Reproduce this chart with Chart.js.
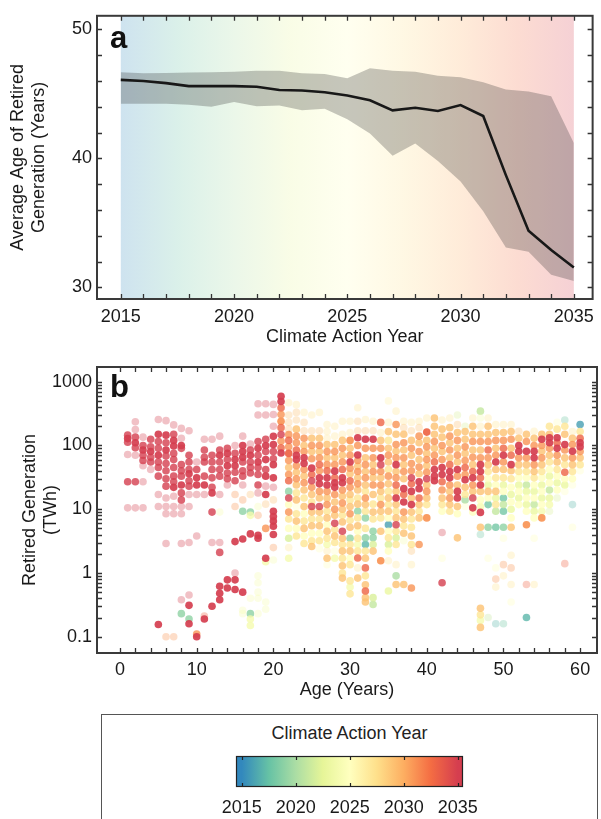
<!DOCTYPE html>
<html>
<head>
<meta charset="utf-8">
<script src="https://cdn.jsdelivr.net/npm/chart.js@4/dist/chart.umd.min.js"></script>
<style>
    body { margin: 0; background: #fff; width: 601px; height: 819px; position: relative; overflow: hidden;
           font-family: "Liberation Sans", Arial, sans-serif; }
    canvas { position: absolute; }
    #chartA { left: 0; top: 0; }
    #chartB { left: 0; top: 345px; }
    #legendBox { position: absolute; left: 101px; top: 714px; width: 497px; height: 130px;
                 border: 1.5px solid #555; box-sizing: border-box; }
    #legendTitle { position: absolute; left: 101px; width: 497px; top: 723px; text-align: center;
                   font-size: 18px; color: #222; }
    #colorBar { left: 200px; top: 750px; }
</style>
</head>
<body>
<canvas id="chartA" width="601" height="350"></canvas>
<canvas id="chartB" width="601" height="358"></canvas>
<div id="legendBox"></div>
<div id="legendTitle">Climate Action Year</div>
<canvas id="colorBar" width="300" height="69"></canvas>
<script>
// Panel a: average age of retired generation by climate action year
const years = [2015, 2016, 2017, 2018, 2019, 2020, 2021, 2022, 2023, 2024, 2025,
               2026, 2027, 2028, 2029, 2030, 2031, 2032, 2033, 2034, 2035];
const meanAge = [46.08, 46.0, 45.83, 45.6, 45.6, 45.6, 45.55, 45.3, 45.26, 45.13, 44.88,
                 44.5, 43.72, 43.92, 43.67, 44.13, 43.28, 38.7, 34.4, 32.9, 31.54];
const upperAge = [46.67, 46.6, 46.62, 46.65, 46.67, 46.72, 46.8, 46.8, 46.6, 46.54, 46.2,
                  46.98, 46.8, 46.72, 46.41, 46.28, 45.9, 45.34, 45.18, 44.82, 41.2];
const lowerAge = [44.23, 44.23, 44.23, 44.15, 44.0, 44.36, 44.03, 44.1, 43.72, 43.85, 43.03,
                  41.92, 40.2, 41.15, 39.8, 38.2, 35.9, 33.1, 32.77, 30.97, 30.5];

const yearTicks = [2015, 2020, 2025, 2030, 2035];
const ageAxisTicks = [30, 40, 50];
const ageTicks = [0, 10, 20, 30, 40, 50, 60];
const twhTicks = [0.1, 1, 10, 100, 1000];

// Panel b: retired generation (TWh) by plant age, [age, TWh, climate action year, frequency 1-3]
const ages1to10 = [
    [1,145,2035,2],[1,128,2035,3],[1,112,2035,2],[1,72,2035,1],[1,27,2035,2],[1,10.5,2035,1],
    [2,235,2035,1],[2,178,2035,1],[2,135,2035,2],[2,110,2035,3],[2,92,2035,2],[2,70,2035,1],[2,27,2035,2],[2,10.5,2035,1],
    [3,135,2035,1],[3,100,2035,2],[3,85,2035,3],[3,70,2035,2],[3,58,2035,2],[3,48,2035,1],[3,27,2035,1],[3,10.5,2035,1],
    [4,125,2035,2],[4,95,2035,2],[4,80,2035,3],[4,65,2035,2],[4,55,2035,2],[4,42,2035,1],
    [5,255,2035,1],[5,150,2035,3],[5,115,2035,2],[5,90,2035,2],[5,70,2035,3],[5,55,2035,2],[5,45,2035,2],[5,33,2035,2],[5,17,2035,1],[5,11,2035,1],[5,0.155,2035,3],
    [6,245,2035,1],[6,145,2035,3],[6,110,2035,2],[6,85,2035,3],[6,68,2035,2],[6,52,2035,2],[6,40,2035,2],[6,30,2035,2],[6,23,2035,2],[6,15,2035,1],[6,11,2035,1],[6,8.5,2035,1],[6,2.9,2035,1],[6,0.1,2031,1],
    [7,210,2035,1],[7,150,2035,2],[7,120,2035,3],[7,98,2035,3],[7,75,2035,2],[7,60,2035,2],[7,45,2035,2],[7,33,2035,2],[7,27,2035,2],[7,22,2035,3],[7,16,2035,1],[7,11,2035,1],[7,8.5,2035,1],[7,0.1,2031,1],
    [8,185,2035,1],[8,130,2035,1],[8,100,2035,3],[8,90,2035,2],[8,50,2035,2],[8,40,2035,2],[8,33,2035,2],[8,24,2035,3],[8,18,2035,2],[8,14,2035,2],[8,11,2035,1],[8,8.5,2035,1],[8,2.9,2035,1],[8,0.38,2035,1],[8,0.23,2019,2],
    [9,170,2035,1],[9,70,2035,2],[9,55,2035,2],[9,42,2035,2],[9,36,2035,3],[9,28,2035,2],[9,23,2035,2],[9,17,2035,1],[9,11,2035,1],[9,3.0,2035,1],[9,0.45,2035,1],[9,0.31,2035,3],[9,0.19,2019,2],[9,0.16,2035,3],
    [10,55,2035,1],[10,42,2035,2],[10,31,2035,3],[10,24,2035,3],[10,17,2035,1],[10,3.8,2035,1],[10,0.11,2031,2],[10,0.1,2035,3]
];
const ages11to20 = [
    [11,125,2035,1],[11,85,2035,2],[11,65,2035,2],[11,55,2035,2],[11,33,2035,2],[11,24,2035,3],[11,17,2035,1],[11,0.21,2033,1],[11,0.19,2035,3],
    [12,125,2035,1],[12,70,2035,2],[12,55,2035,2],[12,42,2035,2],[12,31,2035,2],[12,22,2035,2],[12,18,2035,3],[12,9,2035,2],[12,3.0,2035,1],[12,0.3,2035,3],
    [13,140,2035,1],[13,85,2035,2],[13,70,2035,3],[13,55,2035,2],[13,42,2035,2],[13,33,2035,2],[13,17,2035,1],[13,9,2024,1],[13,3.0,2035,1],[13,2.1,2035,2],[13,0.62,2035,3],[13,0.48,2035,3],[13,0.38,2035,3],
    [14,90,2035,2],[14,75,2035,3],[14,60,2035,2],[14,48,2035,3],[14,37,2035,2],[14,30,2035,2],[14,24,2035,1],[14,0.78,2035,3],[14,0.58,2035,3],
    [15,100,2035,1],[15,75,2035,2],[15,60,2035,3],[15,48,2035,3],[15,38,2035,2],[15,28,2035,2],[15,17,2031,1],[15,11,2031,1],[15,3.1,2035,3],[15,1.0,2035,1],[15,0.78,2035,3],[15,0.55,2035,3],
    [16,140,2035,1],[16,100,2035,3],[16,80,2035,3],[16,65,2035,3],[16,55,2035,2],[16,40,2035,2],[16,33,2035,2],[16,24,2035,1],[16,14,2031,1],[16,9.3,2019,2],[16,3.4,2035,3],[16,0.5,2035,3],[16,0.26,2024,1],[16,0.23,2024,1],
    [17,105,2035,1],[17,85,2035,2],[17,70,2035,3],[17,55,2035,2],[17,45,2035,2],[17,37,2035,2],[17,17,2029,1],[17,9,2019,2],[17,8,2024,2],[17,4.1,2035,3],[17,0.4,2024,1],[17,0.23,2019,2],[17,0.19,2024,2],[17,0.15,2024,2],
    [18,450,2035,1],[18,300,2035,1],[18,115,2035,2],[18,90,2035,3],[18,70,2035,2],[18,55,2035,3],[18,45,2035,2],[18,35,2035,2],[18,24,2035,2],[18,18,2035,1],[18,11,2024,1],[18,8,2031,1],[18,3.9,2035,3],[18,3.5,2035,3],[18,0.9,2024,1],[18,0.7,2024,1],[18,0.5,2024,1],[18,0.4,2024,1],[18,0.23,2024,1],
    [19,450,2035,1],[19,300,2035,1],[19,125,2035,2],[19,100,2035,3],[19,80,2035,2],[19,60,2035,3],[19,42,2035,2],[19,33,2035,3],[19,23,2035,1],[19,17,2035,3],[19,12,2029,1],[19,5,2031,2],[19,1.7,2035,3],[19,1.5,2024,2],[19,0.35,2024,1],[19,0.27,2024,1],
    [20,440,2035,1],[20,305,2035,1],[20,200,2035,1],[20,139,2035,3],[20,103,2035,3],[20,80,2035,2],[20,62,2035,2],[20,50,2035,3],[20,31,2035,3],[20,22,2035,1],[20,14,2029,1],[20,9.3,2035,3],[20,7.7,2035,3],[20,6.5,2035,3],[20,5.4,2035,3],[20,4.0,2035,3],[20,2.5,2031,1],[20,1.6,2024,1]
];
const ages21to30 = [
    [21,590,2035,3],[21,490,2035,3],[21,390,2033,2],[21,305,2031,2],[21,240,2031,3],[21,190,2033,2],[21,148,2035,2],[21,117,2031,2],[21,92,2033,2],[21,76,2035,3],
    [22,467,2027,1],[22,300,2029,1],[22,230,2029,1],[22,180,2029,1],[22,148,2031,2],[22,120,2033,2],[22,95,2031,2],[22,75,2033,3],[22,58,2031,2],[22,45,2029,2],[22,35,2031,2],[22,28,2033,2],[22,19,2019,2],[22,15,2035,2],[22,11.8,2025,2],[22,9,2031,2],[22,7,2027,2],[22,5,2025,2],[22,3.5,2022,2],[22,2.5,2027,1],[22,1.7,2024,2],
    [23,436,2027,1],[23,330,2029,1],[23,250,2029,1],[23,180,2029,2],[23,140,2031,2],[23,110,2031,2],[23,85,2033,2],[23,70,2035,3],[23,60,2035,3],[23,48,2031,2],[23,38,2029,2],[23,30,2031,2],[23,24,2029,2],[23,18,2027,2],[23,14,2029,2],[23,11,2025,1],[23,8.5,2027,2],[23,6.5,2029,2],[23,5,2025,2],[23,3.8,2027,2],
    [24,330,2027,1],[24,230,2029,1],[24,170,2029,1],[24,130,2031,2],[24,100,2029,2],[24,80,2031,2],[24,64,2035,3],[24,52,2035,3],[24,42,2031,2],[24,33,2029,2],[24,26,2031,2],[24,20,2029,2],[24,15,2027,2],[24,11,2029,2],[24,8.5,2025,2],[24,6.5,2027,2],[24,5,2029,2],[24,3.8,2025,2],[24,2.9,2027,2],
    [25,300,2027,1],[25,170,2029,1],[25,130,2029,2],[25,100,2031,2],[25,80,2029,2],[25,62,2031,2],[25,44,2035,3],[25,35,2033,2],[25,28,2035,2],[25,22,2031,2],[25,17,2029,2],[25,13,2027,2],[25,11,2035,2],[25,9,2029,2],[25,7,2027,2],[25,5.5,2029,2],[25,4.2,2025,2],[25,3.2,2027,2],[25,2.6,2029,2],
    [26,330,2027,1],[26,170,2029,1],[26,130,2029,2],[26,100,2031,2],[26,80,2029,2],[26,64,2031,2],[26,50,2033,2],[26,40,2031,2],[26,31,2035,3],[26,25,2035,3],[26,19,2031,2],[26,15,2029,2],[26,11,2035,2],[26,9,2029,2],[26,7,2027,2],[26,5.5,2029,2],[26,4.2,2025,2],[26,3.2,2027,2],[26,2.4,2025,1],
    [27,213,2027,1],[27,165,2027,1],[27,130,2027,1],[27,103,2029,2],[27,80,2031,2],[27,64,2029,2],[27,50,2031,2],[27,40,2033,2],[27,31,2035,3],[27,24,2035,3],[27,19,2031,2],[27,15,2029,2],[27,11.8,2031,2],[27,9.3,2027,2],[27,7.3,2029,2],[27,5.7,2025,2],[27,4.5,2029,2],[27,3.5,2027,2],[27,2.8,2024,2],[27,2.2,2027,1],[27,1.7,2029,2],[27,1.35,2025,1],
    [28,200,2027,1],[28,140,2027,1],[28,103,2029,2],[28,80,2031,2],[28,64,2029,2],[28,50,2031,2],[28,39.5,2035,3],[28,31,2033,2],[28,26,2035,3],[28,22,2035,3],[28,17,2031,2],[28,13,2029,2],[28,10,2031,2],[28,8,2029,2],[28,6,2035,2],[28,4.8,2027,2],[28,3.8,2029,2],[28,3,2027,2],[28,2.2,2025,1],[28,1.7,2024,2],
    [29,240,2027,1],[29,150,2027,1],[29,120,2029,2],[29,90,2031,2],[29,70,2029,2],[29,55,2031,2],[29,42,2033,2],[29,31,2035,3],[29,26,2035,3],[29,20,2031,2],[29,16,2029,2],[29,12.5,2031,2],[29,10,2029,2],[29,8,2027,2],[29,6.3,2029,2],[29,4.5,2035,2],[29,3.5,2029,2],[29,2.8,2027,2],[29,2.2,2029,2],[29,1.7,2027,2],[29,1.3,2029,2],[29,1.0,2027,2],[29,0.83,2029,2],
    [30,240,2027,1],[30,160,2027,1],[30,120,2031,3],[30,90,2029,2],[30,70,2031,2],[30,55,2035,3],[30,44,2031,2],[30,36,2029,2],[30,28,2033,2],[30,22,2031,2],[30,17,2029,2],[30,14,2027,2],[30,11,2029,2],[30,8.5,2031,2],[30,6.7,2027,2],[30,5.2,2029,2],[30,3.5,2019,2],[30,2.8,2027,2],[30,2.2,2029,2],[30,1.7,2025,2],[30,1.35,2027,2],[30,0.75,2027,2],[30,0.6,2024,2],[30,0.47,2027,2]
];
const ages31to40 = [
    [31,390,2027,1],[31,240,2029,1],[31,170,2029,1],[31,132,2035,3],[31,100,2031,2],[31,71,2035,3],[31,58,2031,2],[31,47,2029,2],[31,39,2031,2],[31,31,2029,2],[31,25,2031,2],[31,20,2029,2],[31,15,2027,2],[31,12,2029,2],[31,9.3,2019,2],[31,7.3,2027,2],[31,5.5,2029,2],[31,4.5,2025,2],[31,3.5,2027,2],[31,2.8,2024,2],[31,2.2,2027,2],[31,1.72,2033,2],[31,1.2,2027,1],[31,0.83,2029,2],
    [32,255,2027,1],[32,170,2029,1],[32,125,2035,3],[32,90,2031,2],[32,64,2029,2],[32,50,2031,2],[32,39,2029,2],[32,31,2031,2],[32,24,2029,2],[32,19,2027,2],[32,15,2031,2],[32,11.8,2029,2],[32,9.3,2027,2],[32,7.3,2019,2],[32,5,2027,2],[32,3.55,2019,2],[32,2.8,2017,2],[32,2.2,2027,2],[32,1.7,2029,2],[32,1.2,2033,2],[32,0.9,2027,2],[32,0.65,2029,2],[32,0.52,2033,2],[32,0.41,2029,2],[32,0.35,2029,2],
    [33,240,2027,1],[33,170,2029,1],[33,125,2035,3],[33,90,2031,2],[33,64,2031,2],[33,50,2029,2],[33,39,2031,2],[33,31,2029,2],[33,24,2031,2],[33,17,2029,2],[33,12,2027,2],[33,9,2029,2],[33,7,2027,2],[33,4.5,2019,2],[33,3.55,2019,2],[33,2.8,2022,2],[33,2.2,2029,2],[33,0.41,2022,2],[33,0.32,2021,2],
    [34,230,2033,2],[34,160,2027,1],[34,120,2029,2],[34,90,2031,2],[34,64,2035,3],[34,50,2035,2],[34,39,2031,2],[34,31,2029,2],[34,24,2031,2],[34,19,2029,2],[34,15,2027,2],[34,11.8,2031,2],[34,9.3,2029,2],[34,7.3,2027,2],[34,4.5,2029,2],[34,1.55,2031,3],
    [35,500,2026,1],[35,230,2027,1],[35,165,2029,2],[35,120,2027,2],[35,90,2029,2],[35,70,2031,2],[35,55,2029,2],[35,42,2027,2],[35,33,2031,2],[35,25,2029,2],[35,19,2027,2],[35,15,2029,2],[35,11.8,2027,2],[35,9.3,2029,2],[35,7.3,2025,2],[35,5.7,2016,2],[35,4.5,2025,2],[35,3.55,2027,2],[35,2.8,2022,2],[35,2.2,2025,2],[35,1.55,2027,1],[35,0.52,2023,2],
    [36,345,2027,1],[36,213,2031,2],[36,150,2029,2],[36,103,2031,2],[36,81,2029,2],[36,64,2031,2],[36,50,2035,3],[36,39,2029,2],[36,31,2031,2],[36,24,2033,2],[36,19,2029,2],[36,15,2035,3],[36,11.8,2029,2],[36,9.3,2027,2],[36,7.3,2029,2],[36,5.7,2035,2],[36,4.5,2027,2],[36,3.55,2022,2],[36,2.8,2027,2],[36,1.35,2027,1],[36,0.9,2020,2],[36,0.66,2029,2],
    [37,240,2027,1],[37,190,2029,1],[37,150,2029,2],[37,110,2031,2],[37,85,2029,2],[37,64,2031,2],[37,50,2029,2],[37,39,2031,2],[37,30,2029,2],[37,21,2035,3],[37,17,2033,2],[37,13,2035,3],[37,9,2031,2],[37,7,2029,2],[37,5.5,2027,2],[37,4.2,2029,2],[37,3.2,2024,1],[37,0.66,2029,2],
    [38,230,2027,1],[38,170,2029,1],[38,120,2029,2],[38,90,2031,2],[38,70,2029,2],[38,52,2031,2],[38,40,2031,2],[38,31,2035,2],[38,25,2033,2],[38,19,2035,3],[38,15,2029,2],[38,11.8,2035,3],[38,9,2029,2],[38,7,2027,2],[38,5.2,2027,2],[38,3.8,2029,2],[38,2.8,2027,2],[38,2.2,2029,1],[38,1.35,2027,1],[38,0.58,2031,2],
    [39,240,2027,1],[39,190,2029,1],[39,140,2031,2],[39,110,2029,2],[39,80,2031,2],[39,60,2029,2],[39,46,2031,2],[39,36,2029,2],[39,27,2035,3],[39,21,2035,3],[39,15,2033,2],[39,11.8,2029,2],[39,9.3,2027,2],[39,7.3,2029,2],[39,2.8,2031,2],
    [40,270,2027,1],[40,162,2033,3],[40,120,2029,2],[40,95,2031,2],[40,75,2029,2],[40,60,2031,2],[40,48,2029,2],[40,38,2031,2],[40,30,2035,2],[40,24,2029,2],[40,19,2031,2],[40,15,2029,2],[40,11.8,2027,2],[40,7.3,2031,3]
];
const ages41to50 = [
    [41,270,2029,2],[41,200,2029,2],[41,150,2029,2],[41,115,2031,2],[41,90,2029,2],[41,70,2031,2],[41,55,2033,2],[41,42,2035,3],[41,33,2035,3],[41,28,2035,3],
    [42,250,2027,1],[42,180,2029,2],[42,135,2029,2],[42,100,2031,2],[42,80,2029,2],[42,60,2031,2],[42,45,2035,3],[42,35,2035,3],[42,27,2033,2],[42,20,2031,2],[42,15,2029,2],[42,11.8,2027,2],[42,9.3,2025,2],[42,4.3,2035,1],[42,1.7,2025,1],[42,0.7,2035,2],
    [43,270,2027,1],[43,190,2029,2],[43,140,2031,2],[43,110,2029,2],[43,85,2031,2],[43,64,2029,2],[43,50,2033,2],[43,39,2035,3],[43,31,2035,3],[43,24,2031,2],[43,19,2029,2],[43,15,2031,2],[43,11.8,2029,2],[43,9.3,2027,2],
    [44,300,2022,1],[44,213,2029,1],[44,160,2029,2],[44,120,2031,2],[44,90,2029,2],[44,70,2031,2],[44,55,2029,2],[44,42,2035,3],[44,33,2031,2],[44,24,2029,2],[44,19,2035,3],[44,15,2035,3],[44,11,2029,2],[44,8.5,2025,2],[44,3.55,2029,2],
    [45,200,2022,1],[45,165,2029,2],[45,125,2029,2],[45,95,2031,2],[45,75,2029,2],[45,58,2031,2],[45,45,2033,2],[45,35,2031,2],[45,29,2035,3],[45,22,2029,2],[45,17,2027,2],[45,14,2020,2],[45,11,2025,1],
    [46,270,2027,1],[46,200,2029,2],[46,150,2029,2],[46,115,2031,2],[46,85,2029,2],[46,65,2031,2],[46,50,2029,2],[46,39,2033,2],[46,31,2035,3],[46,24,2031,2],[46,19,2029,2],[46,15,2035,2],[46,10.5,2035,3],[46,9,2025,2],
    [47,345,2021,2],[47,270,2024,1],[47,200,2027,1],[47,150,2029,2],[47,115,2031,2],[47,85,2029,2],[47,64,2031,2],[47,50,2035,3],[47,39,2035,3],[47,31,2033,2],[47,24,2035,3],[47,19,2029,2],[47,14,2025,2],[47,11,2024,2],[47,8.9,2035,3],[47,5.2,2029,2],[47,4.0,2018,1],[47,0.28,2029,2],[47,0.22,2027,2],[47,0.18,2024,2],[47,0.14,2029,2],
    [48,270,2027,1],[48,200,2029,2],[48,150,2029,2],[48,115,2031,2],[48,85,2033,2],[48,64,2031,2],[48,50,2029,2],[48,39,2027,2],[48,30,2025,2],[48,24,2023,2],[48,19,2029,2],[48,15,2025,2],[48,11.8,2018,2],[48,5.2,2019,2],[48,1.7,2025,1],[48,0.2,2021,1],
    [49,213,2027,1],[49,160,2029,2],[49,120,2031,2],[49,90,2029,2],[49,70,2031,2],[49,55,2035,3],[49,42,2029,2],[49,31,2027,2],[49,24,2025,2],[49,19,2029,2],[49,15,2023,2],[49,11.8,2027,2],[49,9.3,2021,2],[49,5.2,2018,2],[49,1.2,2025,1],[49,0.8,2031,1],[49,0.6,2027,1],[49,0.16,2017,1],
    [50,213,2027,1],[50,160,2029,2],[50,120,2031,2],[50,90,2033,2],[50,70,2035,3],[50,55,2031,2],[50,42,2029,2],[50,31,2027,2],[50,24,2023,2],[50,19,2025,2],[50,15,2018,2],[50,11.8,2021,2],[50,9.3,2018,2],[50,5.2,2019,2],[50,3.5,2025,1],[50,1.35,2031,1],[50,0.9,2027,1],[50,0.16,2018,1]
];
const ages51to60 = [
    [51,213,2027,1],[51,165,2029,2],[51,125,2031,2],[51,90,2029,2],[51,70,2033,2],[51,50,2035,3],[51,40,2029,2],[51,30,2027,2],[51,22,2025,2],[51,17,2023,2],[51,13,2025,2],[51,10,2023,2],[51,7.3,2025,2],[51,5.2,2029,2],[51,1.9,2027,1],[51,1.2,2031,1],[51,0.66,2027,1],[51,0.35,2025,1],
    [52,167,2029,1],[52,130,2029,2],[52,100,2035,3],[52,81,2035,3],[52,64,2031,2],[52,50,2029,2],[52,39,2027,2],[52,31,2025,2],[52,24,2023,2],[52,19,2025,2],[52,15,2023,2],[52,11.8,2025,2],
    [53,150,2029,2],[53,115,2031,2],[53,81,2035,3],[53,64,2031,2],[53,50,2029,2],[53,39,2027,2],[53,31,2025,2],[53,24,2021,2],[53,19,2023,2],[53,15,2025,2],[53,11.8,2023,2],[53,9.3,2025,2],[53,5.7,2031,3],[53,0.66,2033,1],[53,0.2,2017,2],
    [54,167,2027,1],[54,130,2029,2],[54,100,2031,2],[54,81,2035,3],[54,64,2035,3],[54,50,2031,2],[54,39,2029,2],[54,31,2027,2],[54,24,2025,2],[54,19,2023,2],[54,15,2025,2],[54,11.8,2021,2],[54,9.3,2023,2],[54,7.3,2025,2],[54,3.5,2025,1],[54,0.66,2027,1],
    [55,150,2029,2],[55,125,2035,3],[55,100,2031,2],[55,81,2029,2],[55,64,2031,2],[55,50,2029,2],[55,39,2027,2],[55,31,2025,2],[55,24,2023,2],[55,19,2025,2],[55,15,2023,2],[55,11.8,2025,2],[55,9.3,2024,2],[55,7.3,2031,3],
    [56,200,2027,2],[56,150,2029,2],[56,132,2035,3],[56,110,2035,3],[56,90,2031,2],[56,70,2029,2],[56,55,2027,2],[56,42,2025,2],[56,33,2023,2],[56,26,2025,2],[56,20,2021,2],[56,15,2023,2],[56,11.8,2024,2],[56,9.3,2022,1],
    [57,230,2025,1],[57,180,2027,2],[57,132,2035,3],[57,110,2033,2],[57,90,2035,3],[57,70,2031,2],[57,55,2029,2],[57,42,2027,2],[57,33,2025,2],[57,26,2023,2],[57,20,2025,2],[57,15,2022,1],
    [58,250,2018,1],[58,200,2027,2],[58,150,2029,2],[58,103,2035,3],[58,85,2031,2],[58,64,2029,2],[58,50,2027,2],[58,38,2033,2],[58,30,2025,2],[58,24,2023,2],[58,19,2025,1],[58,1.4,2033,1],
    [59,165,2027,1],[59,130,2029,2],[59,103,2031,2],[59,81,2035,3],[59,64,2031,2],[59,50,2029,2],[59,39,2027,2],[59,30,2025,2],[59,24,2025,1],[59,11.8,2017,1],[59,5.2,2025,1],
    [60,213,2016,2],[60,165,2027,2],[60,130,2033,2],[60,110,2035,3],[60,95,2035,3],[60,80,2031,2],[60,64,2029,2],[60,50,2027,2],[60,40,2025,1]
];

// Spectral-like colour map, 2015 (blue) -> 2035 (red)
const cmapStops = [[50,136,189],[102,194,165],[171,221,164],[230,245,152],[255,255,191],
                   [254,224,139],[253,174,97],[244,109,67],[213,62,79]];

function cmap(year, alpha) {
    const n = cmapStops.length - 1;
    const t = Math.min(1, Math.max(0, (year - 2015) / 20)) * n;
    const i = Math.min(Math.floor(t), n - 1);
    const f = t - i;
    const c = cmapStops[i].map((v, k) => Math.round(v + (cmapStops[i + 1][k] - v) * f));
    return `rgba(${c[0]},${c[1]},${c[2]},${alpha})`;
}

const fontFamily = '"Liberation Sans", Arial, Helvetica, sans-serif';
Chart.defaults.font.family = fontFamily;
Chart.defaults.color = '#1a1a1a';

const freqAlpha = { 1: 0.32, 2: 0.8, 3: 0.92 };

function range(a, b, step) {
    const out = [];
    for (let v = a; v <= b + 1e-9; v += step) out.push(+v.toFixed(3));
    return out;
}

// frame plus inward ticks on all four sides
function boxTicks(xMarks, yMarks) {
    return {
        id: 'boxTicks',
        afterDatasetsDraw(chart) {
            const { ctx, chartArea: a } = chart;
            const x = chart.scales.x, y = chart.scales.y;
            const len = 5;
            ctx.save();
            ctx.strokeStyle = '#333';
            ctx.lineWidth = 1.3;
            ctx.beginPath();
            xMarks.forEach(v => {
                const p = Math.round(x.getPixelForValue(v)) + 0.5;
                ctx.moveTo(p, a.bottom); ctx.lineTo(p, a.bottom - len);
                ctx.moveTo(p, a.top); ctx.lineTo(p, a.top + len);
            });
            yMarks.forEach(v => {
                const p = Math.round(y.getPixelForValue(v)) + 0.5;
                ctx.moveTo(a.left, p); ctx.lineTo(a.left + len, p);
                ctx.moveTo(a.right, p); ctx.lineTo(a.right - len, p);
            });
            ctx.stroke();
            ctx.lineWidth = 2;
            ctx.strokeStyle = '#3a3a3a';
            ctx.strokeRect(a.left, a.top, a.right - a.left, a.bottom - a.top);
            ctx.restore();
        }
    };
}

function panelLetter(letter, x, y) {
    return {
        id: 'panelLetter',
        afterDraw(chart) {
            const ctx = chart.ctx;
            ctx.save();
            ctx.font = 'bold 31px ' + fontFamily;
            ctx.fillStyle = '#111';
            ctx.fillText(letter, x, y);
            ctx.restore();
        }
    };
}

const yearGradient = {
    id: 'yearGradient',
    beforeDatasetsDraw(chart) {
        const { ctx, chartArea: a, scales: { x } } = chart;
        const x0 = x.getPixelForValue(2015), x1 = x.getPixelForValue(2035);
        const g = ctx.createLinearGradient(x0, 0, x1, 0);
        cmapStops.forEach((c, i) => g.addColorStop(i / (cmapStops.length - 1), `rgba(${c[0]},${c[1]},${c[2]},0.24)`));
        ctx.save();
        ctx.fillStyle = g;
        ctx.fillRect(x0, a.top, x1 - x0, a.bottom - a.top);
        ctx.restore();
    }
};

const tickFont = { size: 18, family: fontFamily };
const titleFont = { size: 18, family: fontFamily, lineHeight: 1.15 };

new Chart('chartA', {
    type: 'line',
    data: {
        datasets: [{
            data: years.map((yr, i) => ({ x: yr, y: upperAge[i] })),
            borderWidth: 0, pointRadius: 0, fill: false
        }, {
            data: years.map((yr, i) => ({ x: yr, y: lowerAge[i] })),
            borderWidth: 0, pointRadius: 0, fill: '-1',
            backgroundColor: 'rgba(45,45,45,0.27)'
        }, {
            data: years.map((yr, i) => ({ x: yr, y: meanAge[i] })),
            borderColor: '#111', borderWidth: 2.6, pointRadius: 0, fill: false, tension: 0
        }]
    },
    options: {
        responsive: false,
        animation: false,
        layout: { padding: { left: 0, right: 4, top: 13, bottom: 0 } },
        plugins: { legend: { display: false }, tooltip: { enabled: false } },
        scales: {
            x: {
                type: 'linear', min: 2013.95, max: 2035.83,
                afterBuildTicks: s => { s.ticks = yearTicks.map(v => ({ value: v })); },
                afterFit: s => { s.height = 51; },
                grid: { display: false, drawTicks: false },
                border: { display: false },
                ticks: { padding: 7, font: tickFont, maxRotation: 0, autoSkip: false, callback: v => String(v) },
                title: { display: true, text: 'Climate Action Year', font: titleFont, padding: { top: 0, bottom: 3 } }
            },
            y: {
                min: 29.1, max: 51.05,
                afterBuildTicks: s => { s.ticks = ageAxisTicks.map(v => ({ value: v })); },
                afterFit: s => { s.width = 97; },
                grid: { display: false, drawTicks: false },
                border: { display: false },
                ticks: { padding: 5, font: tickFont, callback: v => String(v) },
                title: { display: true, text: ['Average Age of Retired', 'Generation (Years)'], font: titleFont, padding: { top: 8, bottom: 0 } }
            }
        }
    },
    plugins: [yearGradient, boxTicks(range(2015, 2035, 1), range(30, 50, 2)), panelLetter('a', 110, 48)]
});

const retiredPoints = [...ages1to10, ...ages11to20, ...ages21to30, ...ages31to40, ...ages41to50, ...ages51to60]
    .map(([age, twh, year, freq]) => ({ x: age, y: twh, year: year, freq: freq }))
    .sort((p, q) => (p.year - q.year) || (p.freq - q.freq));

const logMinor = [];
[0.1, 1, 10, 100].forEach(d => { for (let k = 1; k <= 9; k++) logMinor.push(+(d * k).toPrecision(2)); });
logMinor.push(1000);

new Chart('chartB', {
    type: 'scatter',
    data: {
        datasets: [{
            data: retiredPoints,
            pointRadius: 3.8,
            borderWidth: 0,
            backgroundColor: c => cmap(c.raw.year, freqAlpha[c.raw.freq])
        }]
    },
    options: {
        responsive: false,
        animation: false,
        layout: { padding: { left: 0, right: 4, top: 22, bottom: 0 } },
        plugins: { legend: { display: false }, tooltip: { enabled: false } },
        scales: {
            x: {
                type: 'linear', min: -3, max: 62.2,
                afterBuildTicks: s => { s.ticks = ageTicks.map(v => ({ value: v })); },
                afterFit: s => { s.height = 50; },
                grid: { display: false, drawTicks: false },
                border: { display: false },
                ticks: { padding: 6, font: tickFont, maxRotation: 0, autoSkip: false, callback: v => String(v) },
                title: { display: true, text: 'Age (Years)', font: titleFont, padding: { top: 0, bottom: 3 } }
            },
            y: {
                type: 'logarithmic', min: 0.0555, max: 1700,
                afterBuildTicks: s => { s.ticks = twhTicks.map(v => ({ value: v })); },
                afterFit: s => { s.width = 97; },
                grid: { display: false, drawTicks: false },
                border: { display: false },
                ticks: { padding: 5, font: tickFont, autoSkip: false, callback: v => String(v) },
                title: { display: true, text: ['Retired Generation', '(TWh)'], font: titleFont, padding: { top: 20, bottom: 0 } }
            }
        }
    },
    plugins: [boxTicks(range(0, 60, 2), logMinor), panelLetter('b', 110, 52)]
});

// colour bar legend
const colorBarFill = {
    id: 'colorBarFill',
    beforeDatasetsDraw(chart) {
        const { ctx, chartArea: a, scales: { x } } = chart;
        const g = ctx.createLinearGradient(x.getPixelForValue(2015), 0, x.getPixelForValue(2035), 0);
        cmapStops.forEach((c, i) => g.addColorStop(i / (cmapStops.length - 1), `rgb(${c[0]},${c[1]},${c[2]})`));
        ctx.save();
        ctx.fillStyle = g;
        ctx.fillRect(a.left, a.top, a.right - a.left, a.bottom - a.top);
        ctx.strokeStyle = '#222';
        ctx.lineWidth = 1.2;
        ctx.beginPath();
        yearTicks.forEach(v => {
            const p = Math.round(x.getPixelForValue(v)) + 0.5;
            ctx.moveTo(p, a.top); ctx.lineTo(p, a.top + 4);
            ctx.moveTo(p, a.bottom); ctx.lineTo(p, a.bottom - 4);
        });
        ctx.stroke();
        ctx.strokeRect(a.left + 0.5, a.top + 0.5, a.right - a.left - 1, a.bottom - a.top - 1);
        ctx.restore();
    }
};

new Chart('colorBar', {
    type: 'scatter',
    data: { datasets: [{ data: [] }] },
    options: {
        responsive: false,
        animation: false,
        layout: { padding: { left: 36, right: 37, top: 6, bottom: 0 } },
        plugins: { legend: { display: false }, tooltip: { enabled: false } },
        scales: {
            x: {
                type: 'linear', min: 2014.47, max: 2035.49,
                afterBuildTicks: s => { s.ticks = yearTicks.map(v => ({ value: v })); },
                afterFit: s => { s.height = 32; },
                grid: { display: false, drawTicks: false },
                border: { display: false },
                ticks: { padding: 10, font: tickFont, maxRotation: 0, autoSkip: false, callback: v => String(v) }
            },
            y: { display: false, min: 0, max: 1 }
        }
    },
    plugins: [colorBarFill]
});
</script>
</body>
</html>
